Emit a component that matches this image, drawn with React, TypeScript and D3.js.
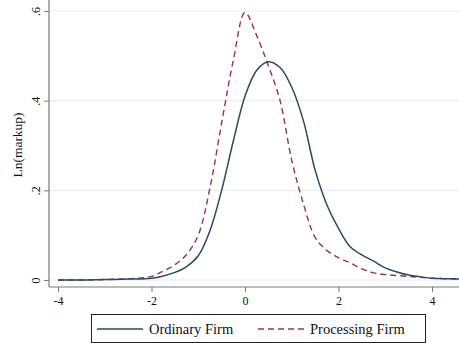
import React, { useEffect, useRef } from 'react';
import * as d3 from 'd3';

const W = 459;
const H = 343;
const NAVY = '#2a4868';
const MAROON = '#9a3447';
const AXIS_COLOR = '#7a7a7a';
const GRID_COLOR = '#ececec';
const FONT = '"Liberation Serif", "Times New Roman", serif';

// x positions of the density estimates
const xs = [-4, -3.5, -3, -2.5, -2, -1.75, -1.5, -1.25, -1, -0.75, -0.5, -0.25, 0, 0.25, 0.5, 0.75, 1, 1.25, 1.5, 1.75, 2, 2.25, 2.5, 2.75, 3, 3.25, 3.5, 3.75, 4, 4.25, 4.6];
const ordinary = [0, 0, 0.001, 0.002, 0.004, 0.009, 0.017, 0.03, 0.054, 0.11, 0.2, 0.31, 0.41, 0.468, 0.487, 0.474, 0.43, 0.355, 0.245, 0.168, 0.115, 0.074, 0.056, 0.042, 0.027, 0.018, 0.011, 0.007, 0.004, 0.003, 0.002];
const processing = [0, 0, 0.001, 0.003, 0.008, 0.02, 0.034, 0.057, 0.1, 0.205, 0.35, 0.49, 0.597, 0.545, 0.478, 0.4, 0.267, 0.17, 0.095, 0.066, 0.05, 0.038, 0.025, 0.016, 0.012, 0.01, 0.008, 0.006, 0.004, 0.003, 0.002];

const xTicks = [-4, -2, 0, 2, 4];
const yTicks = [0, 0.2, 0.4, 0.6];
const yTickLabels = ['0', '.2', '.4', '.6'];
const seriesNames = ['Ordinary Firm', 'Processing Firm'];

const App: React.FC = () => {
  const svgRef = useRef<SVGSVGElement>(null);

  useEffect(() => {
    const svg = d3.select(svgRef.current);
    svg.selectAll('*').remove();

    const left = 49;
    const bottom = 287;

    const xScale = d3.scaleLinear().domain([-4, 4]).range([58, 432]);
    const yScale = d3.scaleLinear().domain([0, 0.6]).range([280, 11]);

    // Grid
    svg.append('g')
      .selectAll('line')
      .data(yTicks)
      .join('line')
      .attr('x1', left).attr('x2', W)
      .attr('y1', d => yScale(d)).attr('y2', d => yScale(d))
      .attr('stroke', GRID_COLOR).attr('stroke-width', 1.2);

    // Y axis
    svg.append('g')
      .attr('transform', `translate(${left},0)`)
      .call(d3.axisLeft(yScale).tickValues(yTicks).tickSize(5).tickPadding(7)
        .tickFormat((_, i) => yTickLabels[i]))
      .call(sel => {
        sel.select('.domain').remove();
        sel.selectAll('.tick line').attr('stroke', AXIS_COLOR);
        sel.selectAll('.tick text')
          .attr('fill', '#111').attr('font-size', 12).attr('font-family', FONT)
          .attr('text-anchor', 'middle')
          .attr('transform', 'rotate(-90)')
          .attr('x', 0).attr('dy', 0)
          .attr('y', -9);
      });
    svg.append('line')
      .attr('x1', left).attr('x2', left).attr('y1', 0).attr('y2', bottom)
      .attr('stroke', AXIS_COLOR).attr('stroke-width', 1.2);

    // X axis
    svg.append('g')
      .attr('transform', `translate(0,${bottom})`)
      .call(d3.axisBottom(xScale).tickValues(xTicks).tickSize(5).tickPadding(4).tickFormat(d => `${d}`))
      .call(sel => {
        sel.select('.domain').remove();
        sel.selectAll('.tick line').attr('stroke', AXIS_COLOR);
        sel.selectAll('.tick text').attr('fill', '#111').attr('font-size', 12).attr('font-family', FONT);
      });
    svg.append('line')
      .attr('x1', left).attr('x2', W).attr('y1', bottom).attr('y2', bottom)
      .attr('stroke', AXIS_COLOR).attr('stroke-width', 1.2);

    // Y title
    svg.append('text')
      .attr('transform', 'translate(22,145) rotate(-90)')
      .attr('text-anchor', 'middle')
      .attr('font-family', FONT).attr('font-size', 13.5).attr('fill', '#111')
      .text('Ln(markup)');

    const lineGen = d3.line<number>()
      .x((_, i) => xScale(xs[i]))
      .y(v => yScale(Math.max(0, v)))
      .curve(d3.curveCatmullRom.alpha(0.5));

    svg.append('path').datum(processing)
      .attr('fill', 'none').attr('stroke', MAROON).attr('stroke-width', 1.4)
      .attr('stroke-dasharray', '6,4').attr('d', lineGen);

    svg.append('path').datum(ordinary)
      .attr('fill', 'none').attr('stroke', NAVY).attr('stroke-width', 1.5)
      .attr('d', lineGen);

    // Legend
    const lg = svg.append('g');
    lg.append('rect')
      .attr('x', 91.5).attr('y', 314.5).attr('width', 334).attr('height', 28)
      .attr('fill', 'white').attr('stroke', '#222').attr('stroke-width', 1);
    const items = [
      { name: seriesNames[0], color: NAVY, dash: null, x: 97 },
      { name: seriesNames[1], color: MAROON, dash: '6,4', x: 258 },
    ];
    items.forEach(it => {
      lg.append('line')
        .attr('x1', it.x).attr('x2', it.x + 46).attr('y1', 329).attr('y2', 329)
        .attr('stroke', it.color).attr('stroke-width', 1.5)
        .attr('stroke-dasharray', it.dash);
      lg.append('text')
        .attr('x', it.x + 52).attr('y', 334)
        .attr('font-family', FONT).attr('font-size', 14.5).attr('fill', '#111')
        .text(it.name);
    });
  }, []);

  return (
    <svg
      ref={svgRef}
      width={W}
      height={H}
      style={{ position: 'absolute', left: 0, top: 0, display: 'block', background: 'white' }}
    />
  );
};

export default App;
